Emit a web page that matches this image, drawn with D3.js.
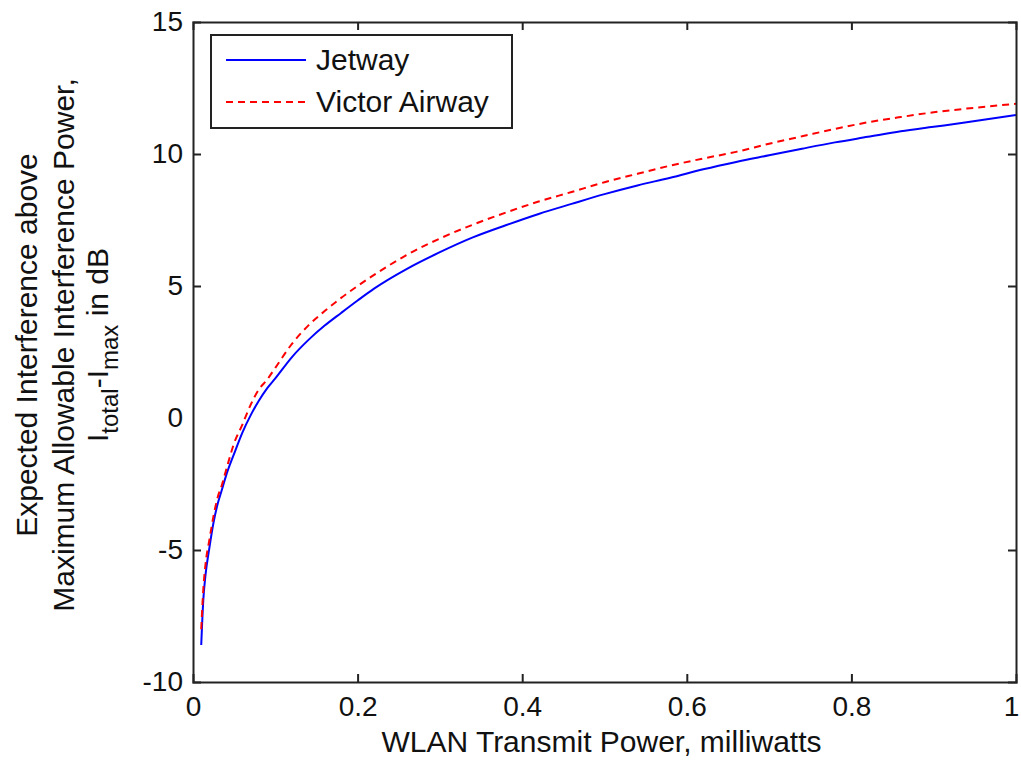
<!DOCTYPE html>
<html>
<head>
<meta charset="utf-8">
<script src="https://cdn.jsdelivr.net/npm/d3@7"></script>
<style>
  body { margin: 0; background: #fff; }
  text { font-family: "Liberation Sans", Arial, sans-serif; fill: #111; }
</style>
</head>
<body>
<svg id="chart" width="1021" height="763"></svg>
<script>
// transmit power (mW) where the curves were read
var power = [0.01, 0.0125, 0.015, 0.02, 0.025, 0.03, 0.035, 0.04, 0.05, 0.06, 0.07, 0.08, 0.09, 0.1,
  0.12, 0.14, 0.16, 0.18, 0.2, 0.22, 0.26, 0.3, 0.34, 0.38, 0.42, 0.46, 0.5, 0.54, 0.58,
  0.62, 0.66, 0.7, 0.74, 0.78, 0.82, 0.86, 0.9, 0.94, 1.0];
var jetway = [-8.6, -6.9, -6.0, -4.9, -3.95, -3.25, -2.73, -2.2, -1.35, -0.55, 0.1, 0.65, 1.12, 1.5,
  2.3, 2.95, 3.5, 3.98, 4.45, 4.9, 5.65, 6.28, 6.84, 7.3, 7.73, 8.11, 8.48, 8.81, 9.1,
  9.42, 9.7, 9.95, 10.2, 10.44, 10.65, 10.86, 11.03, 11.2, 11.48];
var victor = [-8.0, -6.5, -5.6, -4.6, -3.7, -3.0, -2.55, -2.0, -0.95, -0.25, 0.5, 1.08, 1.45, 1.9,
  2.8, 3.5, 4.05, 4.55, 5.0, 5.42, 6.18, 6.8, 7.32, 7.78, 8.2, 8.56, 8.93, 9.25, 9.56,
  9.83, 10.08, 10.39, 10.67, 10.95, 11.2, 11.4, 11.58, 11.72, 11.9];
var xTicks = [0, 0.2, 0.4, 0.6, 0.8, 1];
var yTicks = [-10, -5, 0, 5, 10, 15];
var seriesNames = ["Jetway", "Victor Airway"];

var pL = 193, pR = 1016, pT = 22, pB = 682;
var svg = d3.select("#chart");

var x = d3.scaleLinear().domain([0, 1]).range([pL, pR]);
var y = d3.scaleLinear().domain([-10, 15]).range([pB, pT]);

var series = [
  {name: seriesNames[0], values: jetway, color: "#0000ff", dash: null},
  {name: seriesNames[1], values: victor, color: "#ff0000", dash: "7,5"}
];

var line = d3.line()
  .curve(d3.curveMonotoneX)
  .x(function(d){ return x(d[0]); })
  .y(function(d){ return y(d[1]); });

svg.selectAll("path.series")
  .data(series)
  .enter().append("path")
  .attr("class", "series")
  .attr("d", function(s){ return line(power.map(function(p, i){ return [p, s.values[i]]; })); })
  .attr("fill", "none")
  .attr("stroke", function(s){ return s.color; })
  .attr("stroke-width", 2)
  .attr("stroke-dasharray", function(s){ return s.dash; });

// axes, ticks inside on all four sides (matlab box)
var tk = 8;
svg.append("g").attr("transform", "translate(0," + pB + ")")
  .call(d3.axisBottom(x).tickValues(xTicks).tickSize(-tk).tickPadding(14)
    .tickFormat(function(d){ return d; }));
svg.append("g").attr("transform", "translate(0," + pT + ")")
  .call(d3.axisTop(x).tickValues(xTicks).tickSize(-tk).tickFormat(""));
svg.append("g").attr("transform", "translate(" + pL + ",0)")
  .call(d3.axisLeft(y).tickValues(yTicks).tickSize(-tk).tickPadding(10)
    .tickFormat(function(d){ return d; }));
svg.append("g").attr("transform", "translate(" + pR + ",0)")
  .call(d3.axisRight(y).tickValues(yTicks).tickSize(-tk).tickFormat(""));

svg.selectAll(".domain").attr("stroke", "#222").attr("stroke-width", 2);
svg.selectAll(".tick line").attr("stroke", "#222").attr("stroke-width", 2);
svg.selectAll(".tick text").style("font-size", "28px")
  .style("font-family", "'Liberation Sans', Arial, sans-serif").attr("fill", "#111");
// drop the first/last tick marks that sit on the frame corners
svg.selectAll(".tick line").filter(function(d){ return d === 0 || d === 1 || d === -10 || d === 15; })
  .attr("stroke", "none");
// the "1" label sits on the page edge, pull it in a little
svg.selectAll(".tick text").filter(function(d){ return d === 1; }).attr("dx", -5);

// x label
svg.append("text")
  .attr("x", (pL + pR) / 2 - 3)
  .attr("y", 752)
  .attr("text-anchor", "middle")
  .style("font-size", "30px")
  .text("WLAN Transmit Power, milliwatts");

// y label (three rotated lines)
var yl = svg.append("g").attr("transform", "translate(0,345)");
yl.append("text")
  .attr("transform", "translate(37,0) rotate(-90)")
  .attr("text-anchor", "middle")
  .style("font-size", "30px")
  .text("Expected Interference above");
yl.append("text")
  .attr("transform", "translate(74,0) rotate(-90)")
  .attr("text-anchor", "middle")
  .style("font-size", "30px")
  .text("Maximum Allowable Interference Power,");
var l3 = yl.append("text")
  .attr("transform", "translate(108,0) rotate(-90)")
  .attr("text-anchor", "middle")
  .style("font-size", "30px");
l3.append("tspan").text("I");
l3.append("tspan").attr("dy", 10).style("font-size", "24px").text("total");
l3.append("tspan").attr("dy", -10).text("-I");
l3.append("tspan").attr("dy", 10).style("font-size", "24px").text("max");
l3.append("tspan").attr("dy", -10).text(" in dB");

// legend
var lg = svg.append("g");
lg.append("rect")
  .attr("x", 211).attr("y", 35).attr("width", 301).attr("height", 93)
  .attr("fill", "#fff").attr("stroke", "#222").attr("stroke-width", 2);
var item = lg.selectAll("g.legend-item")
  .data(series)
  .enter().append("g")
  .attr("class", "legend-item")
  .attr("transform", function(d, i){ return "translate(0," + (60 + i * 42) + ")"; });
item.append("line")
  .attr("x1", 226).attr("x2", 306)
  .attr("stroke", function(d){ return d.color; })
  .attr("stroke-width", 2)
  .attr("stroke-dasharray", function(d){ return d.dash; });
item.append("text")
  .attr("x", 316).attr("y", 10)
  .style("font-size", "30px")
  .text(function(d){ return d.name; });
</script>
</body>
</html>
